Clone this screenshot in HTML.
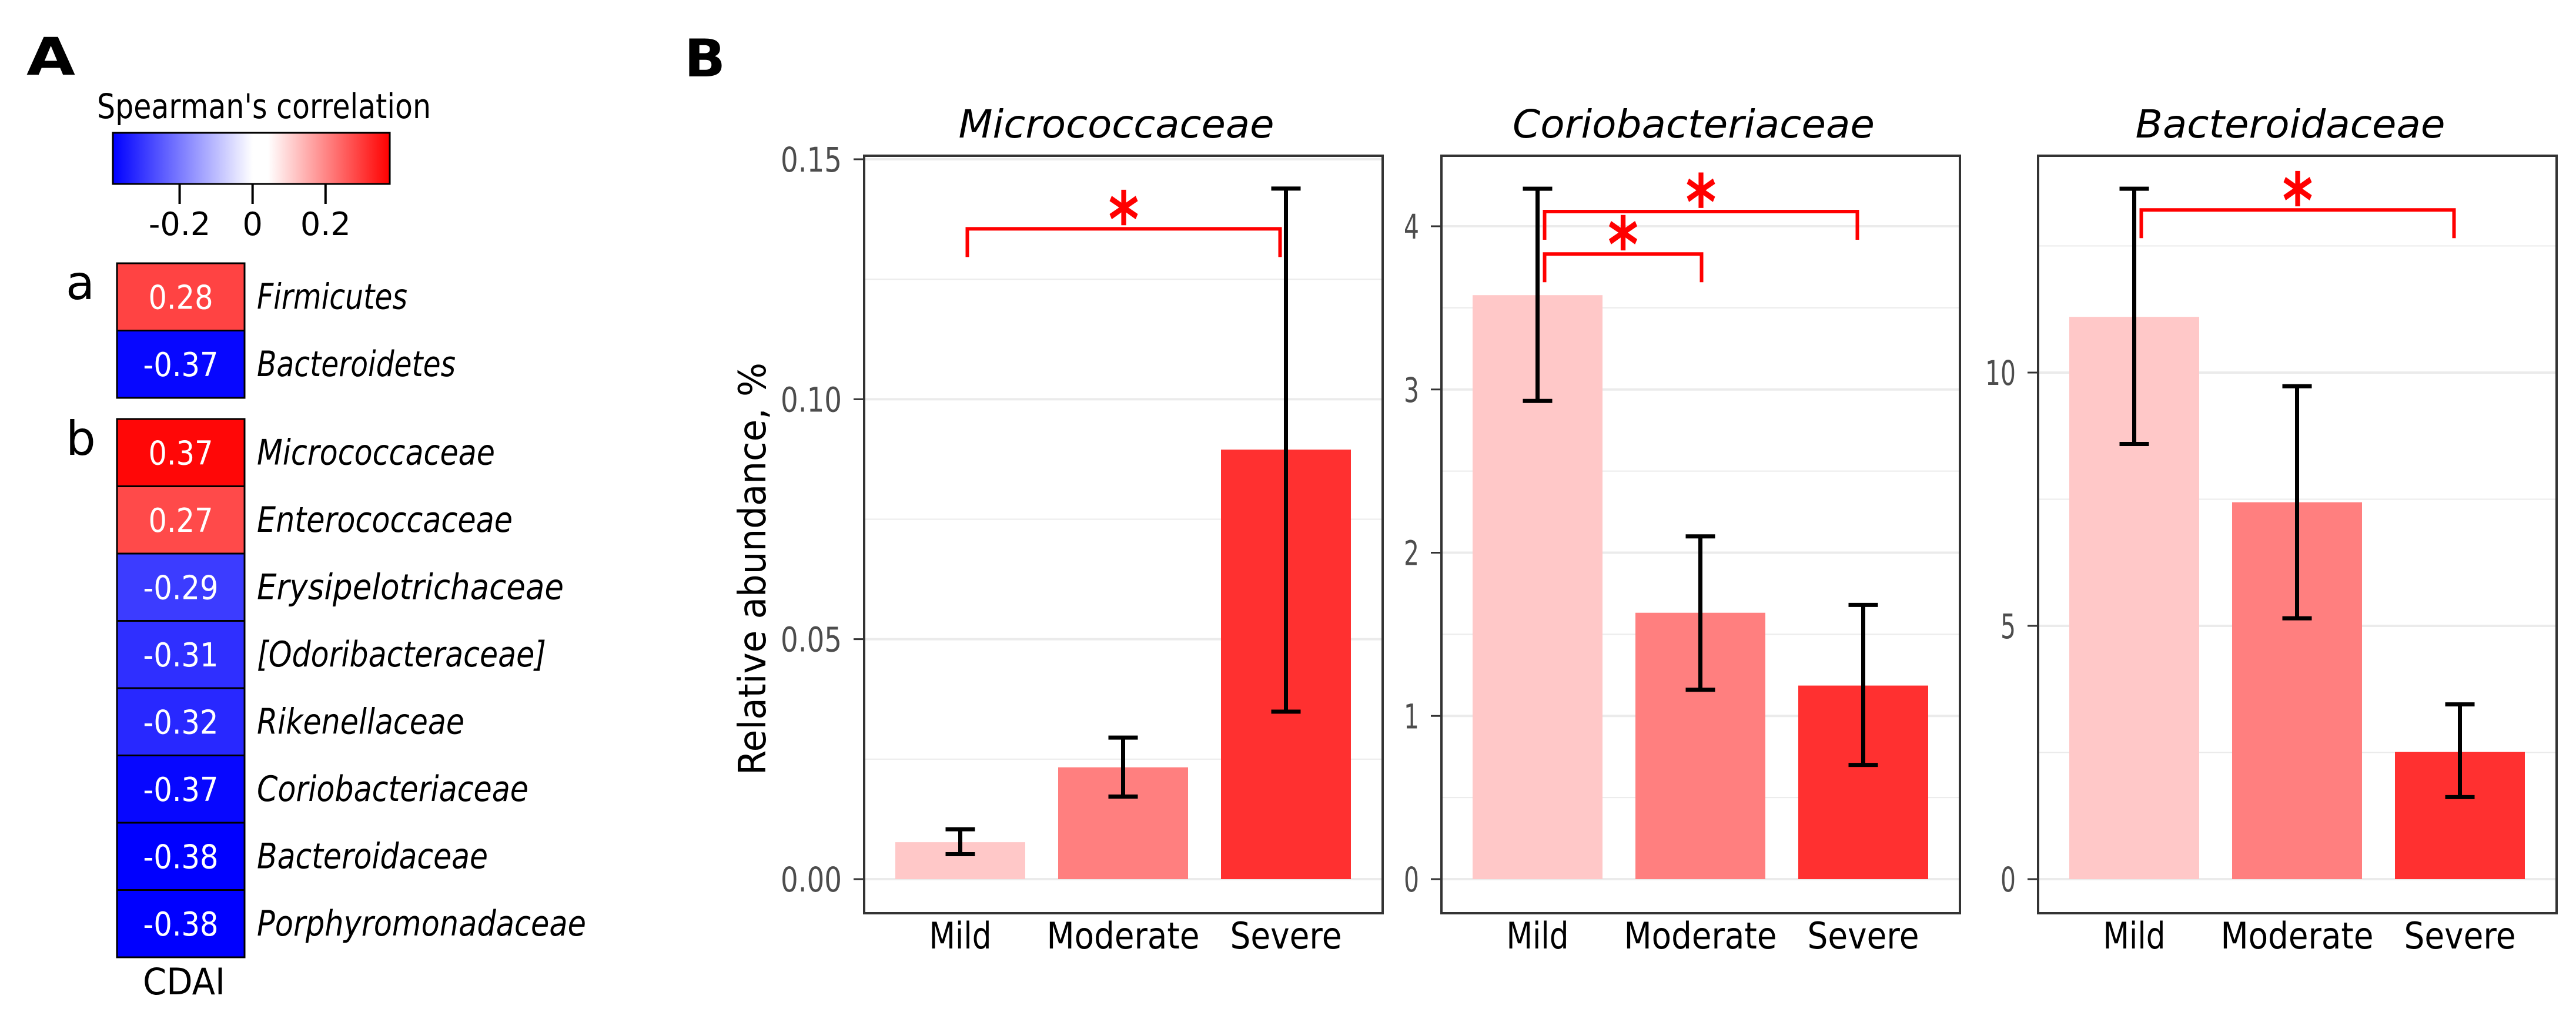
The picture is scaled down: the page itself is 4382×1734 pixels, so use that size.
<!DOCTYPE html>
<html><head><meta charset="utf-8"><style>
html,body{margin:0;padding:0;background:#fff;}
svg{display:block;}
text{font-family:"DejaVu Sans","Liberation Sans",sans-serif;}
</style></head><body>
<svg id="fig" width="4382" height="1734" viewBox="0 0 4382 1734" xmlns="http://www.w3.org/2000/svg">
<defs>
<linearGradient id="cbar" x1="0" x2="1" y1="0" y2="0">
<stop offset="0" stop-color="#0000ff"/>
<stop offset="0.505" stop-color="#ffffff"/>
<stop offset="0.56" stop-color="#ffffff"/>
<stop offset="1" stop-color="#ff0000"/>
</linearGradient>
</defs>
<g id="panelA"></g>
<g id="panelB"></g>
</svg>
<script>
// ---- Panel A data ----
const heatGroups = ["a","a","b","b","b","b","b","b","b","b"];
const heatLabels = ["Firmicutes","Bacteroidetes","Micrococcaceae","Enterococcaceae","Erysipelotrichaceae","[Odoribacteraceae]","Rikenellaceae","Coriobacteriaceae","Bacteroidaceae","Porphyromonadaceae"];
const heatValues = [0.28,-0.37,0.37,0.27,-0.29,-0.31,-0.32,-0.37,-0.38,-0.38];
const heatText = ["0.28","-0.37","0.37","0.27","-0.29","-0.31","-0.32","-0.37","-0.38","-0.38"];
const cbarTicks = [-0.2,0,0.2];
const cbarTickLabels = ["-0.2","0","0.2"];

// ---- Panel B data ----
const categories = ["Mild","Moderate","Severe"];
const panelTitles = ["Micrococcaceae","Coriobacteriaceae","Bacteroidaceae"];
const microMeans = [0.0077,0.0233,0.0895];
const microLow = [0.0052,0.0172,0.0349];
const microHigh = [0.0104,0.0295,0.1439];
const corioMeans = [3.578,1.632,1.186];
const corioLow = [2.93,1.16,0.70];
const corioHigh = [4.23,2.10,1.68];
const bactMeans = [11.10,7.44,2.51];
const bactLow = [8.59,5.15,1.62];
const bactHigh = [13.63,9.73,3.45];
const microTicks = [0,0.05,0.10,0.15];
const microTickLabels = ["0.00","0.05","0.10","0.15"];
const corioTicks = [0,1,2,3,4];
const corioTickLabels = ["0","1","2","3","4"];
const bactTicks = [0,5,10];
const bactTickLabels = ["0","5","10"];
const microSig = [[0,2,0.1355]];
const corioSig = [[0,1,3.83],[0,2,4.09]];
const bactSig = [[0,2,13.21]];

const NS="http://www.w3.org/2000/svg";
function mk(tag, attrs, parent, txt){
  const e=document.createElementNS(NS,tag);
  for(const k in attrs) e.setAttribute(k,attrs[k]);
  if(txt!==undefined) e.textContent=txt;
  parent.appendChild(e); return e;
}

// ===== Panel A =====
const A=document.getElementById('panelA');
let t=mk('text',{x:45,y:127,'font-size':88,'font-weight':'bold',textLength:83,lengthAdjust:'spacingAndGlyphs'},A,'A');


t=mk('text',{x:165,y:201,'font-size':58,textLength:568,lengthAdjust:'spacingAndGlyphs'},A,"Spearman's correlation");


const cbX0=192,cbX1=663,cbMin=-0.383,cbMax=0.376;
function cbx(v){return cbX0+(v-cbMin)/(cbMax-cbMin)*(cbX1-cbX0);}
let r=mk('rect',{x:cbX0,y:226,width:cbX1-cbX0,height:87,fill:'url(#cbar)',stroke:'#000','stroke-width':3},A);


cbarTicks.forEach((v,i)=>{
  let l=mk('line',{x1:cbx(v),x2:cbx(v),y1:313,y2:347,stroke:'#000','stroke-width':4},A);
  
  
  let tt=mk('text',{x:cbx(v),y:400,'font-size':54,'text-anchor':'middle','font-family':'Liberation Sans, sans-serif'},A,cbarTickLabels[i]);
  
  
});
function heatColor(v){
  const k=Math.min(1,Math.abs(v)/0.38);
  const c=Math.round(255*(1-k));
  return v>=0?`rgb(255,${c},${c})`:`rgb(${c},${c},255)`;
}
const cellX=199,cellW=217,rowH=114.5;
let aIdx=0,bIdx=0;
heatValues.forEach((v,i)=>{
  const y = heatGroups[i]==='a' ? 448+rowH*(aIdx++) : 713+rowH*(bIdx++);
  let c=mk('rect',{x:cellX,y:y,width:cellW,height:rowH,fill:heatColor(v),stroke:'#000','stroke-width':3},A);
  
  
  let vt=mk('text',{x:cellX+cellW/2,y:y+rowH/2+20,'font-size':56,fill:'#fff','text-anchor':'middle',textLength:heatText[i].length>4?128:110,lengthAdjust:'spacingAndGlyphs'},A,heatText[i]);
  
  
  const lw={Firmicutes:256,Bacteroidetes:338,Micrococcaceae:405,Enterococcaceae:435,Erysipelotrichaceae:522,"[Odoribacteraceae]":492,Rikenellaceae:353,Coriobacteriaceae:462,Bacteroidaceae:393,Porphyromonadaceae:560}[heatLabels[i]];
  let lt=mk('text',{x:437,y:y+rowH/2+20,'font-size':60,'font-style':'italic',textLength:lw,lengthAdjust:'spacingAndGlyphs'},A,heatLabels[i]);
  
  
});
t=mk('text',{x:112,y:509,'font-size':80},A,'a');


t=mk('text',{x:112,y:774,'font-size':80},A,'b');


t=mk('text',{x:313,y:1692,'font-size':62,'text-anchor':'middle',textLength:140,lengthAdjust:'spacingAndGlyphs'},A,'CDAI');



// ===== Panel B =====
const B=document.getElementById('panelB');
t=mk('text',{x:1164,y:130,'font-size':88,'font-weight':'bold',textLength:70,lengthAdjust:'spacingAndGlyphs'},B,'B');


t=mk('text',{x:0,y:0,'font-size':64,'text-anchor':'middle','font-family':'Liberation Sans, sans-serif',textLength:702,lengthAdjust:'spacingAndGlyphs',transform:'translate(1302,968) rotate(-90)'},B,'Relative abundance, %');



const barColors=['#ffc8c8','#ff7f7f','#ff3030'];
const boxTop=265, boxBot=1554, zeroY=1496;
const panels=[
 {x0:1470,ppu:1225/0.15,means:microMeans,low:microLow,high:microHigh,ticks:microTicks,labels:microTickLabels,minor:0.025,sig:microSig,tw:537,name:'micrococcaceae'},
 {x0:2452,ppu:1111/4,means:corioMeans,low:corioLow,high:corioHigh,ticks:corioTicks,labels:corioTickLabels,minor:0.5,sig:corioSig,tw:616,name:'coriobacteriaceae'},
 {x0:3467,ppu:862/10,means:bactMeans,low:bactLow,high:bactHigh,ticks:bactTicks,labels:bactTickLabels,minor:2.5,sig:bactSig,tw:527,name:'bacteroidaceae'}
];
const boxW=882, barW=221, barStep=277, barStart=53;
panels.forEach((p,pi)=>{
  const g=mk('g',{},B);
  
  
  const y=v=>zeroY-v*p.ppu;
  const xc=i=>p.x0+barStart+barStep*i+barW/2;
  for(let v=p.minor; y(v)>boxTop; v+=p.minor*2){
    let l=mk('line',{x1:p.x0,x2:p.x0+boxW,y1:y(v),y2:y(v),stroke:'#ebebeb','stroke-width':2},g);
    
    
  }
  p.ticks.forEach((v,i)=>{
    let l=mk('line',{x1:p.x0,x2:p.x0+boxW,y1:y(v),y2:y(v),stroke:'#ebebeb','stroke-width':4},g);
    
    
    let tk=mk('line',{x1:p.x0-18,x2:p.x0,y1:y(v),y2:y(v),stroke:'#333','stroke-width':3},g);
    
    
    const lab=p.labels[i];
    let tl=mk('text',{x:p.x0-38,y:y(v)+21,'font-size':58,fill:'#4d4d4d','text-anchor':'end',textLength:lab.length*26,lengthAdjust:'spacingAndGlyphs'},g,lab);
    
    
  });
  p.means.forEach((m,i)=>{
    let b=mk('rect',{x:xc(i)-barW/2,y:y(m),width:barW,height:zeroY-y(m),fill:barColors[i]},g);
    
    
  });
  p.means.forEach((m,i)=>{
    const eg=mk('g',{stroke:'#000','stroke-width':7,fill:'none'},g);
    
    
    mk('line',{x1:xc(i),x2:xc(i),y1:y(p.low[i]),y2:y(p.high[i])},eg);
    mk('line',{x1:xc(i)-25,x2:xc(i)+25,y1:y(p.low[i]),y2:y(p.low[i])},eg);
    mk('line',{x1:xc(i)-25,x2:xc(i)+25,y1:y(p.high[i]),y2:y(p.high[i])},eg);
    let cl=mk('text',{x:xc(i),y:1614,'font-size':62,'text-anchor':'middle',textLength:[106,260,190][i],lengthAdjust:'spacingAndGlyphs'},g,categories[i]);
    
    
  });
  p.sig.forEach(s=>{
    const xa=xc(s[0])+12, xb=xc(s[1])-(s[1]===2?10:-2), yy=y(s[2]);
    let br=mk('path',{d:`M${xa},${yy+48} V${yy} H${xb} V${yy+48}`,stroke:'#ff0000','stroke-width':6,fill:'none'},g);
    
    
    let st=mk('text',{x:(xa+xb)/2,y:yy+30,'font-size':130,'font-weight':'bold',fill:'#ff0000','text-anchor':'middle',textLength:52,lengthAdjust:'spacingAndGlyphs'},g,'*');
    
    
  });
  let bx=mk('rect',{x:p.x0,y:boxTop,width:boxW,height:boxBot-boxTop,fill:'none',stroke:'#333','stroke-width':4},g);
  
  
  let ti=mk('text',{x:p.x0+boxW/2-12,y:234,'font-size':66,'font-style':'italic','text-anchor':'middle',textLength:p.tw,lengthAdjust:'spacingAndGlyphs'},g,panelTitles[pi]);
  
  
});
</script>
</body></html>
